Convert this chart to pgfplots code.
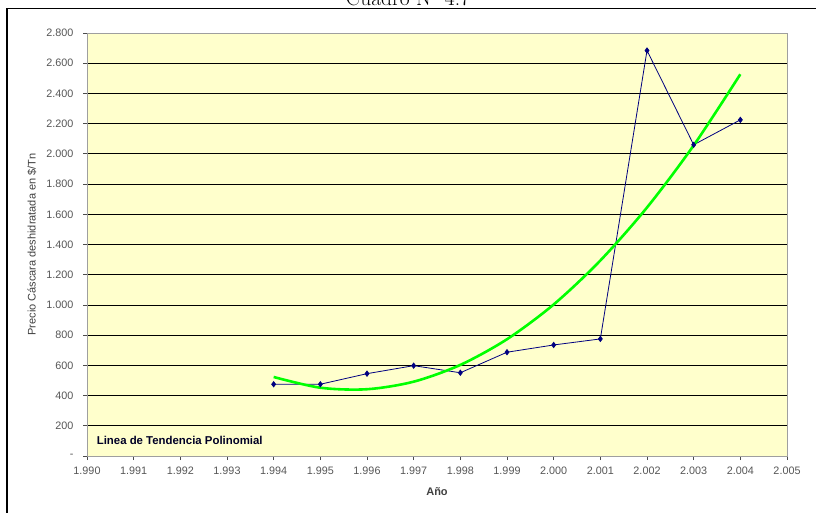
\documentclass[border=0pt]{standalone}
\usepackage{pgfplots}
\pgfplotsset{compat=1.18}
\usepackage{fontspec}
\setmainfont{Liberation Sans}
\newfontfamily\lmfont{Latin Modern Roman}
\definecolor{plotbg}{HTML}{FFFFCC}
\definecolor{navyline}{HTML}{000080}
\definecolor{trend}{HTML}{00FF00}
\definecolor{ticktext}{HTML}{555555}
\begin{document}
\begin{tikzpicture}[x=1pt,y=1pt]
\useasboundingbox (0,0) rectangle (816,512);
\clip (0,0) rectangle (816,512);
\node[anchor=base, font=\lmfont\fontsize{21.5}{24}\selectfont] at (408,506) {Cuadro N° 4.7};
\draw[line width=1.5pt] (7,503.5) -- (816,503.5);
\draw[line width=1.5pt] (7,503.5) -- (7,-2);
\begin{axis}[
  scale only axis, width=700pt, height=423pt,
  at={(87pt,56pt)}, anchor=south west,
  xmin=1990, xmax=2005, ymin=0, ymax=2800,
  xtick={1990,1991,...,2005},
  xticklabels={1.990,1.991,1.992,1.993,1.994,1.995,1.996,1.997,1.998,1.999,2.000,2.001,2.002,2.003,2.004,2.005},
  ytick={0,200,...,2800},
  yticklabels={-,200,400,600,800,1.000,1.200,1.400,1.600,1.800,2.000,2.200,2.400,2.600,2.800},
  axis background/.style={fill=plotbg},
  axis line style={draw=gray!75, line width=0.9pt},
  ymajorgrids, major grid style={black, line width=0.8pt},
  tick align=outside, xtick pos=left, ytick pos=left,
  major tick length=4pt, tick style={black!70, line width=0.8pt},
  ticklabel style={font=\fontsize{10.8}{12}\selectfont, text=ticktext},
  yticklabel style={xshift=-6pt},
  xticklabel style={yshift=-3pt},
  xlabel={\textbf{Año}}, ylabel={Precio Cáscara deshidratada en \$/Tn},
  xlabel style={at={(axis description cs:0.5,-0.085)}, anchor=center, font=\fontsize{11}{12}\selectfont, text=black!75},
  ylabel style={at={(axis description cs:-0.0786,0.5)}, anchor=center, font=\fontsize{11}{12}\selectfont, text=black!75},
  clip=false,
]
\addplot[navyline, line width=0.8pt, mark=diamond*, mark size=2.6pt, mark options={fill=navyline, draw=navyline}] coordinates {
 (1994,475) (1995,475) (1996,545) (1997,598) (1998,551) (1999,687)
 (2000,735) (2001,775) (2002,2684) (2003,2060) (2004,2225)};
\addplot[trend, line width=2.6pt, smooth, no marks] coordinates {
 (1994,523) (1995,452) (1996,442) (1997,492) (1998,603) (1999,773)
 (2000,1003) (2001,1294) (2002,1645) (2003,2056) (2004,2527)};
\node[anchor=west, font=\bfseries\fontsize{11.4}{12}\selectfont, text=black!85!blue] at (rel axis cs:0.009,0.038) {Linea de Tendencia Polinomial};
\end{axis}
\end{tikzpicture}
\end{document}
